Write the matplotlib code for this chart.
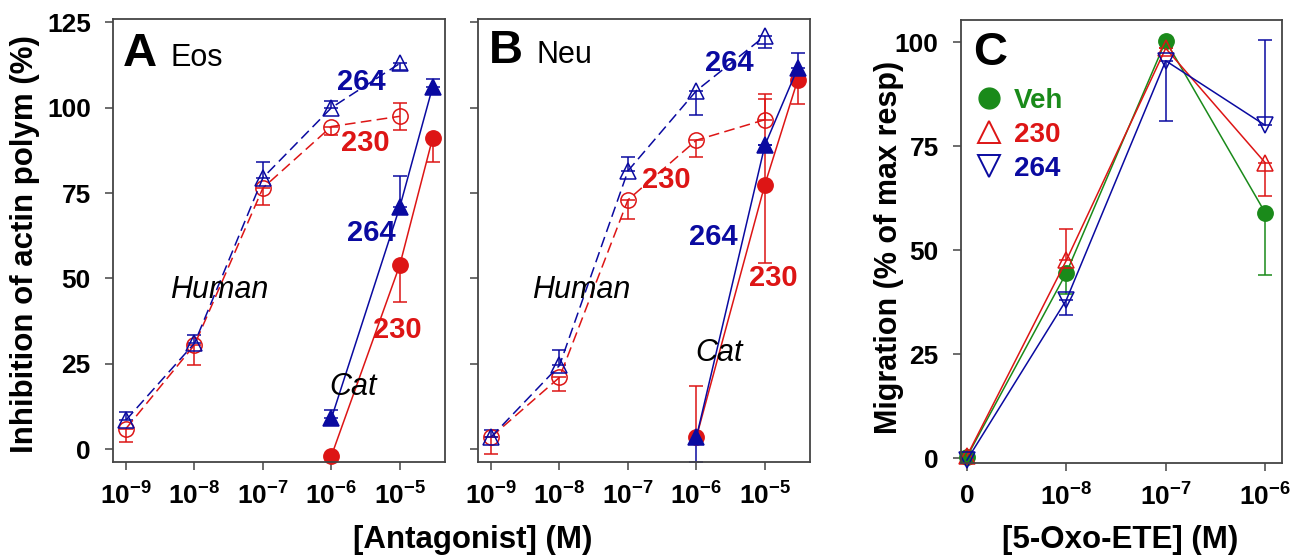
import numpy as np
import matplotlib
matplotlib.use('Agg')
import matplotlib.pyplot as plt
from matplotlib.lines import Line2D

plt.rcParams['font.family'] = ['Liberation Sans', 'DejaVu Sans']
plt.rcParams['mathtext.fontset'] = 'custom'
plt.rcParams['mathtext.rm'] = 'Liberation Sans:bold'
plt.rcParams['mathtext.bf'] = 'Liberation Sans:bold'
plt.rcParams['mathtext.it'] = 'Liberation Sans:bold'

BLUE = '#0a0aa0'
RED = '#dd1515'
GREEN = '#1a8a1a'

# ---- data ----
x_hum = [1e-9, 1e-8, 1e-7, 1e-6, 1e-5]
x_cat = [1e-6, 1e-5, 3e-5]
ant_ticks = [1e-9, 1e-8, 1e-7, 1e-6, 1e-5]
ant_labels = ['$10^{-9}$', '$10^{-8}$', '$10^{-7}$', '$10^{-6}$', '$10^{-5}$']

# panel A (Eos)
a_h264 = [8.5, 31, 79.5, 100, 113]
a_h264_lo = [0, 0, 0, 0, 2]
a_h264_hi = [2.5, 2.5, 4.5, 2, 0]
a_h230 = [6, 30.5, 76.5, 94.5, 97.5]
a_h230_lo = [4, 6, 5, 2.5, 4]
a_h230_hi = [0, 0, 0, 0, 4]
a_c264 = [9, 71, 106]
a_c264_lo = [0, 0, 0]
a_c264_hi = [2.5, 9, 2.5]
a_c230 = [-2, 54, 91]
a_c230_lo = [0, 11, 7]
a_c230_hi = [0, 0, 0]

# panel B (Neu)
b_h264 = [3.5, 24.5, 81.5, 105, 121]
b_h264_lo = [0, 0, 0, 7, 3.5]
b_h264_hi = [2, 4.5, 4, 0, 0]
b_h230 = [3.5, 21, 73, 90.5, 96.5]
b_h230_lo = [5, 4, 5.5, 5, 0]
b_h230_hi = [0, 0, 0, 0, 6]
b_c264 = [3.5, 89, 111.5]
b_c264_lo = [7.3, 0, 0]
b_c264_hi = [0, 0, 4.5]
b_c230 = [3.5, 77.5, 108]
b_c230_lo = [0, 23, 7]
b_c230_hi = [15, 26.5, 0]

# panel C (migration)
oxo_labels = ['0', '$10^{-8}$', '$10^{-7}$', '$10^{-6}$']
c_veh = [0.3, 44.5, 100.3, 59]
c_veh_lo = [0, 5, 0, 15]
c_veh_hi = [0, 0, 0, 0]
c_230 = [0.5, 47.5, 98.5, 71]
c_230_lo = [0, 0, 0, 8]
c_230_hi = [0, 7.5, 0, 0]
c_264 = [-0.5, 38, 95.5, 80]
c_264_lo = [0, 3.5, 14.5, 0]
c_264_hi = [0, 0, 0, 20.5]

fig = plt.figure(figsize=(12.93, 5.59), dpi=100)
axA = fig.add_axes([0.0874, 0.1735, 0.2568, 0.7925])
axB = fig.add_axes([0.3697, 0.1735, 0.2568, 0.7925])
axC = fig.add_axes([0.7432, 0.1717, 0.2483, 0.7925])


def series(ax, x, y, lo, hi, color, marker, filled, dashed, ms=11):
    ax.errorbar(x, y, yerr=[lo, hi], color=color, lw=1.1,
                ls=(0, (7, 3.5)) if dashed else '-', marker=marker, ms=ms,
                mfc=color if filled else 'none', mec=color, mew=1.1,
                capsize=5, elinewidth=1.1, capthick=1.1, clip_on=False)


def style(ax):
    for s in ax.spines.values():
        s.set_color('#444444')
        s.set_linewidth(1.3)
    ax.tick_params(direction='out', length=6, width=1.1, color='#444444',
                   labelsize=19)
    ax.tick_params(axis='y', pad=10)
    ax.tick_params(axis='x', pad=9)
    for lab in ax.get_yticklabels():
        lab.set_fontweight('bold')


def lab(ax, x, y, s, color, **kw):
    ax.text(x, y, s, color=color, transform=ax.transAxes, ha='center',
            va='center', **kw)


for ax, d in [(axA, (a_h230, a_h230_lo, a_h230_hi, a_h264, a_h264_lo, a_h264_hi,
                     a_c230, a_c230_lo, a_c230_hi, a_c264, a_c264_lo, a_c264_hi)),
              (axB, (b_h230, b_h230_lo, b_h230_hi, b_h264, b_h264_lo, b_h264_hi,
                     b_c230, b_c230_lo, b_c230_hi, b_c264, b_c264_lo, b_c264_hi))]:
    series(ax, x_hum, d[0], d[1], d[2], RED, 'o', False, True)
    series(ax, x_hum, d[3], d[4], d[5], BLUE, '^', False, True)
    series(ax, x_cat, d[6], d[7], d[8], RED, 'o', True, False)
    series(ax, x_cat, d[9], d[10], d[11], BLUE, '^', True, False)
    ax.set_xscale('log')
    ax.set_xlim(10**-9.19, 10**-4.34)
    ax.set_ylim(-3.8, 126)
    ax.set_xticks(ant_ticks)
    ax.set_xticklabels(ant_labels)
    ax.minorticks_off()
    ax.set_yticks([0, 25, 50, 75, 100, 125])
    style(ax)

axB.set_yticklabels([])

# panel A labels
axA.text(0.03, 0.893, 'A', transform=axA.transAxes, fontsize=34, fontweight='bold')
axA.text(0.172, 0.893, 'Eos', transform=axA.transAxes, fontsize=22)
lab(axA, 0.747, 0.858, '264', BLUE, fontsize=21, fontweight='bold')
lab(axA, 0.759, 0.720, '230', RED, fontsize=21, fontweight='bold')
lab(axA, 0.777, 0.517, '264', BLUE, fontsize=21, fontweight='bold')
lab(axA, 0.855, 0.298, '230', RED, fontsize=21, fontweight='bold')
lab(axA, 0.319, 0.388, 'Human', 'black', fontsize=22, fontstyle='italic')
lab(axA, 0.723, 0.169, 'Cat', 'black', fontsize=22, fontstyle='italic')

# panel B labels
axB.text(0.033, 0.90, 'B', transform=axB.transAxes, fontsize=34, fontweight='bold')
axB.text(0.175, 0.90, 'Neu', transform=axB.transAxes, fontsize=22)
lab(axB, 0.756, 0.90, '264', BLUE, fontsize=21, fontweight='bold')
lab(axB, 0.566, 0.637, '230', RED, fontsize=21, fontweight='bold')
lab(axB, 0.708, 0.508, '264', BLUE, fontsize=21, fontweight='bold')
lab(axB, 0.889, 0.415, '230', RED, fontsize=21, fontweight='bold')
lab(axB, 0.310, 0.388, 'Human', 'black', fontsize=22, fontstyle='italic')
lab(axB, 0.726, 0.246, 'Cat', 'black', fontsize=22, fontstyle='italic')

# panel C
xc = np.arange(len(oxo_labels))
series(axC, xc, c_veh, c_veh_lo, c_veh_hi, GREEN, 'o', True, False)
series(axC, xc, c_230, c_230_lo, c_230_hi, RED, '^', False, False, ms=12)
series(axC, xc, c_264, c_264_lo, c_264_hi, BLUE, 'v', False, False, ms=12)
axC.set_xlim(-0.06, 3.17)
axC.set_ylim(-1.2, 105.3)
axC.set_xticks(xc)
axC.set_xticklabels(oxo_labels)
axC.set_yticks([0, 25, 50, 75, 100])
style(axC)
for t in axC.get_xticklabels():
    t.set_fontweight('bold')
axC.text(0.037, 0.898, 'C', transform=axC.transAxes, fontsize=34, fontweight='bold')
handles = [Line2D([], [], ls='none', marker='o', ms=15, color=GREEN),
           Line2D([], [], ls='none', marker='^', ms=16, mfc='none', mec=RED, mew=1.4),
           Line2D([], [], ls='none', marker='v', ms=16, mfc='none', mec=BLUE, mew=1.4)]
axC.legend(handles, ['Veh', '230', '264'], loc='upper left',
           bbox_to_anchor=(-0.02, 0.89), frameon=False, handlelength=1.1,
           handletextpad=0.35, labelspacing=0.28, borderaxespad=0.3,
           labelcolor=[GREEN, RED, BLUE],
           prop={'weight': 'bold', 'size': 20})

fig.text(25 / 1293, 1 - 244 / 559, 'Inhibition of actin polym (%)', rotation=90,
         ha='center', va='center', fontsize=22.5, fontweight='bold')
fig.text(889 / 1293, 1 - 247 / 559, 'Migration (% of max resp)', rotation=90,
         ha='center', va='center', fontsize=22, fontweight='bold')
fig.text(473 / 1293, 1 - 540 / 559, '[Antagonist] (M)', ha='center', va='center',
         fontsize=22.5, fontweight='bold')
fig.text(1120 / 1293, 1 - 540 / 559, '[5-Oxo-ETE] (M)', ha='center', va='center',
         fontsize=22.5, fontweight='bold')

fig.savefig('out.png', dpi=100)
